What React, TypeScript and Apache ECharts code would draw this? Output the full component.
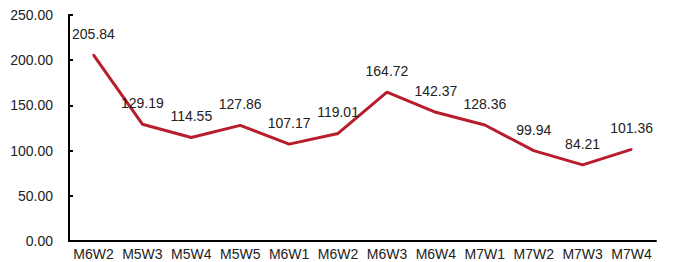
import React, { useEffect, useRef } from "react";
import * as echarts from "echarts";

const categories = ["M6W2", "M5W3", "M5W4", "M5W5", "M6W1", "M6W2", "M6W3", "M6W4", "M7W1", "M7W2", "M7W3", "M7W4"];
const values = [205.84, 129.19, 114.55, 127.86, 107.17, 119.01, 164.72, 142.37, 128.36, 99.94, 84.21, 101.36];
const yMin = 0;
const yMax = 250;
const yInterval = 50;

export default function App() {
  const ref = useRef<HTMLDivElement>(null);
  useEffect(() => {
    if (!ref.current) return;
    const chart = echarts.init(ref.current, null, { renderer: "svg" });
    const font = "Arial, 'Liberation Sans', sans-serif";
    chart.setOption({
      animation: false,
      grid: { left: 69, right: 24, top: 15, bottom: 21, containLabel: false },
      xAxis: {
        type: "category",
        data: categories,
        boundaryGap: true,
        axisLine: { show: true, lineStyle: { color: "#000", width: 2 } },
        axisTick: { show: false },
        axisLabel: { color: "#222", fontSize: 14, fontFamily: font, margin: 6, interval: 0 },
        splitLine: { show: false },
      },
      yAxis: {
        type: "value",
        min: yMin,
        max: yMax,
        interval: yInterval,
        axisLine: { show: true, lineStyle: { color: "#000", width: 2 } },
        axisTick: { show: true, inside: true, length: 4, lineStyle: { color: "#000", width: 2 } },
        axisLabel: {
          color: "#222",
          fontSize: 14,
          fontFamily: font,
          margin: 16,
          formatter: (v: number) => v.toFixed(2),
        },
        splitLine: { show: false },
      },
      series: [
        {
          type: "line",
          data: values,
          symbol: "circle",
          symbolSize: 2,
          showSymbol: true,
          showAllSymbol: true,
          lineStyle: { color: "#B81D2B", width: 3 },
          itemStyle: { color: "#B81D2B" },
          label: {
            show: true,
            position: "top",
            distance: 13,
            color: "#222",
            fontSize: 14,
            fontFamily: font,
            formatter: (p: any) => Number(p.value).toFixed(2),
          },
        },
      ],
    });
    return () => chart.dispose();
  }, []);
  return <div ref={ref} style={{ width: 680, height: 262, position: "absolute", left: 0, top: 0 }} />;
}
